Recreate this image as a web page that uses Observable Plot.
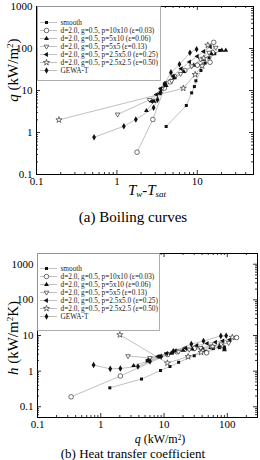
<!DOCTYPE html>
<html><head><meta charset="utf-8">
<script src="https://cdn.jsdelivr.net/npm/d3@7"></script>
<script src="https://cdn.jsdelivr.net/npm/@observablehq/plot@0.6"></script>
<style>
html,body{margin:0;padding:0;background:#fff;}
#root{position:relative;width:260px;height:460px;overflow:hidden;font-family:"Liberation Serif","Times New Roman",serif;color:#000;}
#root svg{position:absolute;overflow:visible;}
.ylab{position:absolute;white-space:nowrap;font-size:15px;transform:translate(-50%,-50%) rotate(-90deg);}
.lab{position:absolute;white-space:nowrap;transform:translate(-50%,-50%);line-height:1;}
sup{font-size:0.6em;vertical-align:0.45em;line-height:0;}
sub{font-size:0.6em;vertical-align:-0.3em;line-height:0;}
</style></head><body><div id="root"></div>
<script>
// ---------- data ----------
const seriesNames = [
  "smooth",
  "d=2.0, g=0.5, p=10x10 (ε=0.03)",
  "d=2.0, g=0.5, p=5x10 (ε=0.06)",
  "d=2.0, g=0.5, p=5x5 (ε=0.13)",
  "d=2.0, g=0.5, p=2.5x5.0 (ε=0.25)",
  "d=2.0, g=0.5, p=2.5x2.5 (ε=0.50)",
  "GEWA-T"
];
// wall superheat Tw-Tsat (K), heat flux q (kW/m2), heat transfer coefficient h (kW/m2K)
const smoothDT = [4.1, 7.3, 8.5, 9.2, 9.6, 11.1, 12.5, 14, 16.5, 19];
const smoothQ  = [1.39, 4.4, 8.8, 12.4, 17, 30, 45, 60, 75, 90];
const smoothH  = [0.34, 0.60, 1.04, 1.35, 1.77, 2.70, 3.60, 4.29, 4.55, 4.74];

const p10x10DT = [1.78, 2.8, 3.9, 4.6, 5.2, 7, 10, 14.4, 15.5, 16];
const p10x10Q  = [0.34, 2.04, 11.4, 16, 21.5, 30, 40, 47, 80, 140];
const p10x10H  = [0.19, 0.73, 2.92, 3.48, 4.13, 4.29, 4.0, 3.26, 5.16, 8.75];

const p5x10DT = [2.33, 2.9, 3.4, 4.1, 5.2, 6.8, 9, 12, 15, 20.2, 22.6];
const p5x10Q  = [3.3, 5.5, 8.5, 13, 20, 28, 40, 55, 75, 90, 90];
const p5x10H  = [1.42, 1.90, 2.50, 3.17, 3.85, 4.12, 4.44, 4.58, 5.0, 4.46, 3.98];

const p5x5DT = [1.02, 2.55, 3.6, 4.8, 6.2, 8.5, 11, 14, 17];
const p5x5Q  = [2.7, 6.0, 11, 17, 25, 38, 55, 80, 105];
const p5x5H  = [2.65, 2.35, 3.06, 3.54, 4.03, 4.47, 5.0, 5.71, 6.18];

const p25x50DT = [2.7, 3.1, 3.5, 4.0, 5.0, 6.3, 8, 10, 12, 14.5];
const p25x50Q  = [5.5, 8, 11, 15, 22, 33, 48, 65, 85, 110];
const p25x50H  = [2.04, 2.58, 3.14, 3.75, 4.4, 5.24, 6.0, 6.5, 7.08, 7.59];

const p25x25DT = [0.19, 6.7, 9.4, 11.5, 12, 13.5];
const p25x25Q  = [2.0, 11.3, 24, 38.6, 58.6, 120];
const p25x25H  = [10.5, 1.69, 2.55, 3.36, 4.88, 8.9];

const gewaDT = [0.52, 1.22, 1.72, 2.86, 3.2, 3.5, 3.9, 4.7, 6.0, 8.1, 9.8];
const gewaQ  = [0.77, 1.41, 2.04, 3.87, 6.0, 9.0, 14, 27, 42, 79, 96];
const gewaH  = [1.48, 1.16, 1.19, 1.35, 1.88, 2.57, 3.59, 5.74, 7.0, 9.75, 9.8];

const topXTicks = [0.1, 1, 10, 50];
const topYTicks = [0.1, 1, 10, 100, 1000];
const botXTicks = [0.1, 1, 10, 100, 300];
const botYTicks = [0.1, 1, 10, 100, 1000];

// ---------- assembly ----------
const seriesData = [
  [smoothDT, smoothQ, smoothH], [p10x10DT, p10x10Q, p10x10H], [p5x10DT, p5x10Q, p5x10H],
  [p5x5DT, p5x5Q, p5x5H], [p25x50DT, p25x50Q, p25x50H], [p25x25DT, p25x25Q, p25x25H],
  [gewaDT, gewaQ, gewaH]
];
const rows = seriesData.map(([dT, q, h]) => dT.map((d, j) => ({dT: d, q: q[j], h: h[j]})));

const styles = [
  {symbol: "square", fill: "#111", stroke: "none", rotate: 0, r: 1.7},
  {symbol: "circle", fill: "white", stroke: "#333", rotate: 0, r: 2.3},
  {symbol: "triangle", fill: "#111", stroke: "none", rotate: 0, r: 1.8},
  {symbol: "triangle", fill: "white", stroke: "#333", rotate: 180, r: 1.7},
  {symbol: "triangle", fill: "#111", stroke: "none", rotate: -90, r: 1.8},
  {symbol: "star", fill: "white", stroke: "#333", rotate: 0, r: 1.9},
  {symbol: "diamond", fill: "#111", stroke: "none", rotate: 0, r: 2.0}
];
const FONT = '"Liberation Serif","Times New Roman",serif';
const LINE = "#b0b0b0";

function tickMarks(xdom, ydom, majX, majY, FW, FH) {
  const mx = d3.scaleLog().domain(xdom).ticks().filter(t => !majX.includes(t));
  const my = d3.scaleLog().domain(ydom).ticks().filter(t => !majY.includes(t));
  const o = {stroke: "black", strokeWidth: 0.8};
  return [
    Plot.tickX(mx, {x: d => d, insetTop: FH - 2, ...o}),
    Plot.tickX(mx, {x: d => d, insetBottom: FH - 2, ...o}),
    Plot.tickX(majX, {x: d => d, insetTop: FH - 4, ...o}),
    Plot.tickX(majX, {x: d => d, insetBottom: FH - 4, ...o}),
    Plot.tickY(my, {y: d => d, insetRight: FW - 2, ...o}),
    Plot.tickY(my, {y: d => d, insetLeft: FW - 2, ...o}),
    Plot.tickY(majY, {y: d => d, insetRight: FW - 4, ...o}),
    Plot.tickY(majY, {y: d => d, insetLeft: FW - 4, ...o})
  ];
}

function chart({xk, yk, xdom, ydom, majX, majY, width, height, ml, mr, mt, mb}) {
  const FW = width - ml - mr, FH = height - mt - mb;
  const marks = [];
  rows.forEach(r => marks.push(Plot.line(r, {x: xk, y: yk, stroke: LINE, strokeWidth: 0.8})));
  rows.forEach((r, i) => {
    const s = styles[i];
    marks.push(Plot.dot(r, {x: xk, y: yk, symbol: s.symbol, fill: s.fill, stroke: s.stroke,
      strokeWidth: 0.7, rotate: s.rotate, r: s.r}));
  });
  marks.push(...tickMarks(xdom, ydom, majX, majY, FW, FH));
  marks.push(Plot.axisX(majX, {tickSize: 0, tickPadding: 3, tickFormat: d => String(d), label: null, fontSize: 11}));
  marks.push(Plot.axisY(majY, {tickSize: 0, tickPadding: 4, tickFormat: d => String(d), label: null, fontSize: 11}));
  marks.push(Plot.frame({stroke: "black", strokeWidth: 1}));
  return Plot.plot({
    width, height, marginLeft: ml, marginRight: mr, marginTop: mt, marginBottom: mb,
    x: {type: "log", domain: xdom}, y: {type: "log", domain: ydom},
    style: {fontFamily: FONT, fontSize: "11px", background: "transparent", color: "black"},
    marks
  });
}

function legend(width, height, y0, y1) {
  const marks = [
    Plot.frame({fill: "white", stroke: "#999", strokeWidth: 0.8}),
    Plot.ruleY(seriesNames, {y: d => d, x1: 3, x2: 20, stroke: LINE, strokeWidth: 0.8})
  ];
  seriesNames.forEach((n, i) => {
    const s = styles[i];
    marks.push(Plot.dot([n], {x: 9, y: d => d, symbol: s.symbol, fill: s.fill, stroke: s.stroke,
      strokeWidth: 0.7, rotate: s.rotate, r: s.r}));
  });
  marks.push(Plot.text(seriesNames, {x: 23, y: d => d, text: d => d, textAnchor: "start", fontSize: 7.3, fill: "#222"}));
  return Plot.plot({
    width, height, margin: 0, axis: null,
    x: {domain: [0, width], range: [0, width]},
    y: {type: "point", domain: seriesNames, range: [y0, y1]},
    style: {fontFamily: FONT, background: "transparent"},
    marks
  });
}

const root = document.getElementById("root");
function place(el, left, top) { el.style.left = left + "px"; el.style.top = top + "px"; root.appendChild(el); }
function html(cls, inner, left, top, size) {
  const d = document.createElement("div"); d.className = cls; d.innerHTML = inner;
  if (size) d.style.fontSize = size + "px";
  place(d, left, top);
}

// top chart: boiling curves
place(chart({xk: "dT", yk: "q", xdom: [0.1, 50], ydom: [0.1, 1000], majX: topXTicks, majY: topYTicks,
  width: 260, height: 196, ml: 36, mr: 7, mt: 6, mb: 22}), 0, 0);
place(legend(123, 74, 12, 68), 37, 6);
html("ylab", "<i>q</i> (kW/m<sup>2</sup>)", 13, 70);
html("lab", "<i>T</i><sub><i>w</i></sub>-<i>T</i><sub><i>sat</i></sub>", 147, 190, 15);
html("lab", "(a) Boiling curves", 133, 217, 15);

// bottom chart: heat transfer coefficient
place(chart({xk: "q", yk: "h", xdom: [0.1, 300], ydom: [0.05, 2000], majX: botXTicks, majY: botYTicks,
  width: 260, height: 199, ml: 37, mr: 3, mt: 13, mb: 22}), 0, 240);
place(legend(122, 77, 11, 67), 37, 253);
html("ylab", "<i>h</i> (kW/m<sup>2</sup>K)", 13, 338);
html("lab", "<i>q</i> (kW/m<sup>2</sup>)", 160, 438.5, 12);
html("lab", "(b) Heat transfer coefficient", 133, 453.3, 13);
</script>
</body></html>
